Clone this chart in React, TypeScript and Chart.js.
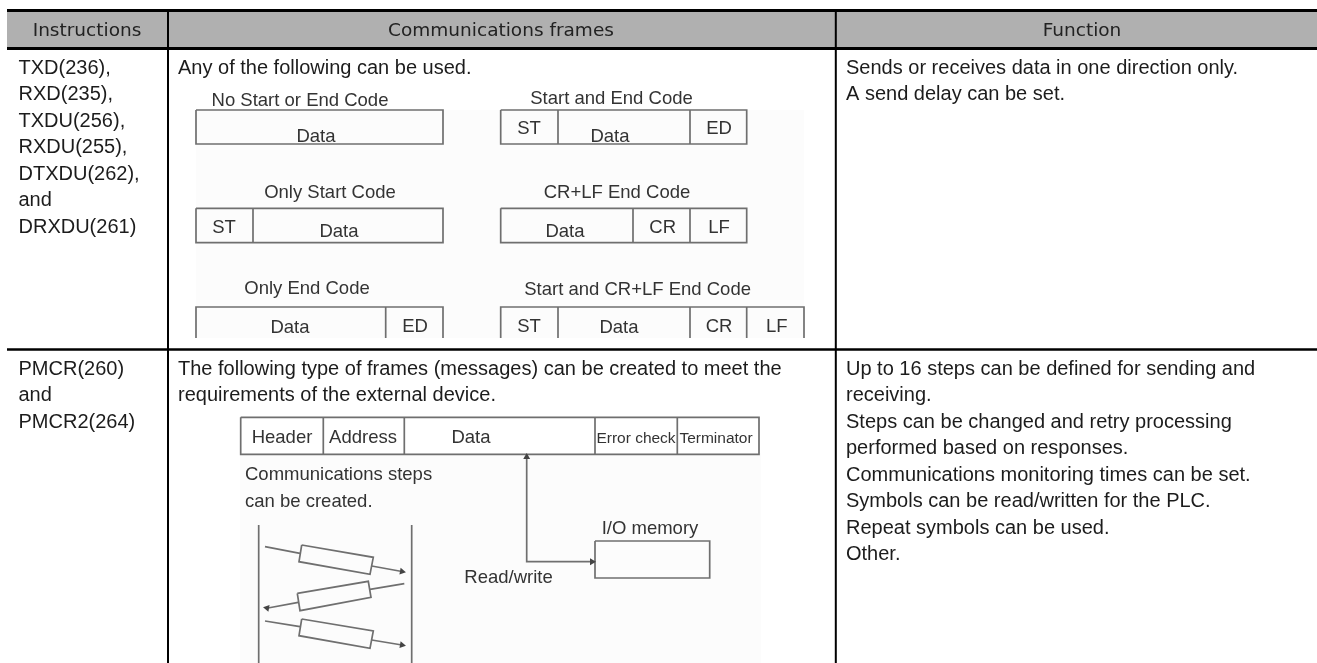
import { useEffect, useRef } from "react";
import { Chart, registerables } from "chart.js";

Chart.register(...registerables);

type P = [number, number];

// ---------- Text content ----------
const headers = ["Instructions", "Communications frames", "Function"];
const instructionsA = ["TXD(236),", "RXD(235),", "TXDU(256),", "RXDU(255),", "DTXDU(262),", "and", "DRXDU(261)"];
const instructionsB = ["PMCR(260)", "and", "PMCR2(264)"];
const framesIntroA = ["Any of the following can be used."];
const framesIntroB = [
  "The following type of frames (messages) can be created to meet the",
  "requirements of the external device.",
];
const functionA = ["Sends or receives data in one direction only.", "A send delay can be set."];
const functionB = [
  "Up to 16 steps can be defined for sending and",
  "receiving.",
  "Steps can be changed and retry processing",
  "performed based on responses.",
  "Communications monitoring times can be set.",
  "Symbols can be read/written for the PLC.",
  "Repeat symbols can be used.",
  "Other.",
];
const frameTitles = [
  "No Start or End Code",
  "Start and End Code",
  "Only Start Code",
  "CR+LF End Code",
  "Only End Code",
  "Start and CR+LF End Code",
];
const frameCells = ["Data", "ST", "Data", "ED", "ST", "Data", "Data", "CR", "LF", "Data", "ED", "ST", "Data", "CR", "LF"];
const messageCells = ["Header", "Address", "Data"];
const messageSmallCells = ["Error check", "Terminator"];
const stepNotes = ["Communications steps", "can be created."];
const ioLabel = "I/O memory";
const rwLabel = "Read/write";

// ---------- Layout (axis units equal the page's pixels) ----------
const headerX = [87, 501, 1082];
const headerY = 36;
const framesTitleX = [300, 611.5, 330, 617, 307, 637.6];
const framesTitleY = [105.5, 103.5, 198, 198, 294, 295];
const cellX = [316, 529, 610, 719, 224, 339, 565, 662.7, 719, 290, 415, 529, 619, 719, 776.7];
const cellY = [142, 134, 142, 134, 233, 236.7, 236.7, 233, 233, 333, 331.7, 331.7, 333, 331.7, 331.7];
const msgX = [282, 363, 471];
const msgSmallX = [636, 716];
const lineStep = 26.45;
const baseA = 74;
const baseB = 375;

const tableLines: { pts: P[]; w: number; c: string }[] = [
  { pts: [[7, 10.5], [1317, 10.5]], w: 3, c: "#000" },
  { pts: [[7, 48.5], [1317, 48.5]], w: 3, c: "#000" },
  { pts: [[7, 349.5], [1317, 349.5]], w: 2.5, c: "#000" },
  { pts: [[168, 9], [168, 663]], w: 2, c: "#000" },
  { pts: [[835.8, 9], [835.8, 663]], w: 2, c: "#000" },
];
const headerBand: P[] = [[7, 29.5], [1317, 29.5]];

const paperBands: { pts: P[]; w: number }[] = [
  { pts: [[196, 224], [804, 224]], w: 228 },
  { pts: [[240, 558], [761, 558]], w: 210 },
];

const rect = (x0: number, x1: number, y0: number, y1: number): P[] => [[x0, y0], [x1, y0], [x1, y1], [x0, y1], [x0, y0]];
const openRect = (x0: number, x1: number, y0: number, y1: number): P[] => [[x0, y1], [x0, y0], [x1, y0], [x1, y1]];
const vbar = (x: number, y0: number, y1: number): P[] => [[x, y0], [x, y1]];

const diagramLines: P[][] = [
  rect(196, 443, 110, 144),
  rect(500.7, 746.7, 110, 144), vbar(558, 110, 144), vbar(690, 110, 144),
  rect(196, 443, 208.3, 242.7), vbar(253, 208.3, 242.7),
  rect(500.7, 746.7, 208.3, 242.7), vbar(633, 208.3, 242.7), vbar(690, 208.3, 242.7),
  openRect(196, 443, 307, 338), vbar(385.7, 307, 338),
  openRect(500.7, 804, 307, 338), vbar(558, 307, 338), vbar(690, 307, 338), vbar(746.7, 307, 338),
  rect(240.7, 759, 417.3, 454.3), vbar(323.3, 417.3, 454.3), vbar(404.3, 417.3, 454.3), vbar(595, 417.3, 454.3), vbar(677.3, 417.3, 454.3),
  rect(595, 709.7, 541, 578),
  [[526.7, 456], [526.7, 561.7], [593, 561.7]],
  vbar(258.7, 525, 663),
  vbar(411.7, 525, 663),
  [[301.7, 545], [373.3, 557.3], [370, 574.3], [299, 561.7], [301.7, 545]],
  [[265, 546.7], [300, 553.3]],
  [[371.7, 566], [402, 571.5]],
  [[297.3, 593.3], [368.3, 581.3], [371, 597.3], [300, 610.7], [297.3, 593.3]],
  [[404.3, 583.7], [370, 589.3]],
  [[298.3, 602.3], [268, 608]],
  [[301.7, 619], [373.3, 631], [370, 648.3], [299, 635.7], [301.7, 619]],
  [[265, 621], [300, 626.7]],
  [[371.7, 640], [402, 645]],
];

const arrowHeads: { at: P; rot: number }[] = [
  { at: [526.7, 457], rot: 0 },
  { at: [592, 561.7], rot: 90 },
  { at: [402, 571.5], rot: 100 },
  { at: [267, 608], rot: 280 },
  { at: [402, 645], rot: 100 },
];

const BODY = "20px 'Liberation Sans'";
const DIAGRAM = "18.5px 'Liberation Sans'";
const SMALL = "15.5px 'Liberation Sans'";
const HEAD = "18.5px 'DejaVu Sans'";

type T = { s: string; x: number; y: number; font: string; color: string; align: CanvasTextAlign };

function buildTexts(): T[] {
  const out: T[] = [];
  const block = (lines: string[], x: number, y: number) =>
    lines.forEach((s, i) => out.push({ s, x, y: y + i * lineStep, font: BODY, color: "#1c1c1c", align: "left" }));
  headers.forEach((s, i) => out.push({ s, x: headerX[i], y: headerY, font: HEAD, color: "#222", align: "center" }));
  block(instructionsA, 18.5, baseA);
  block(instructionsB, 18.5, baseB);
  block(framesIntroA, 178, baseA);
  block(framesIntroB, 178, baseB);
  block(functionA, 846, baseA);
  block(functionB, 846, baseB);
  const dc = "#333";
  frameTitles.forEach((s, i) => out.push({ s, x: framesTitleX[i], y: framesTitleY[i], font: DIAGRAM, color: dc, align: "center" }));
  frameCells.forEach((s, i) => out.push({ s, x: cellX[i], y: cellY[i], font: DIAGRAM, color: dc, align: "center" }));
  messageCells.forEach((s, i) => out.push({ s, x: msgX[i], y: 443, font: DIAGRAM, color: dc, align: "center" }));
  messageSmallCells.forEach((s, i) => out.push({ s, x: msgSmallX[i], y: 443, font: SMALL, color: dc, align: "center" }));
  stepNotes.forEach((s, i) => out.push({ s, x: 245, y: 480 + i * 26.7, font: DIAGRAM, color: dc, align: "left" }));
  out.push({ s: ioLabel, x: 601.7, y: 534.3, font: DIAGRAM, color: dc, align: "left" });
  out.push({ s: rwLabel, x: 464.3, y: 583.3, font: DIAGRAM, color: dc, align: "left" });
  return out;
}

const textPlugin = {
  id: "tableText",
  afterDatasetsDraw(chart: any) {
    const { ctx, scales } = chart;
    ctx.save();
    ctx.textBaseline = "alphabetic";
    for (const t of buildTexts()) {
      ctx.font = t.font;
      ctx.fillStyle = t.color;
      ctx.textAlign = t.align;
      ctx.fillText(t.s, scales.x.getPixelForValue(t.x), scales.y.getPixelForValue(t.y));
    }
    ctx.restore();
  },
};

const lineDs = (pts: P[], color: string, width: number) => ({
  data: pts.map(([x, y]) => ({ x, y })),
  showLine: true,
  borderColor: color,
  borderWidth: width,
  pointRadius: 0,
  tension: 0,
  fill: false,
  clip: false,
  borderCapStyle: "butt",
  borderJoinStyle: "miter",
});

export default function App() {
  const ref = useRef<HTMLCanvasElement>(null);
  useEffect(() => {
    if (!ref.current) return;
    const chart = new Chart(ref.current, {
      type: "scatter",
      data: {
        // Chart.js paints the first dataset last, so the top layer comes first.
        datasets: [
          {
            data: arrowHeads.map((a) => ({ x: a.at[0], y: a.at[1] })),
            showLine: false,
            pointStyle: "triangle",
            pointRadius: 4,
            pointRotation: arrowHeads.map((a) => a.rot),
            backgroundColor: "#444",
            borderColor: "#444",
            borderWidth: 0,
            clip: false,
          },
          ...diagramLines.map((p) => lineDs(p, "#6f6f6f", 1.7)),
          ...tableLines.map((l) => lineDs(l.pts, l.c, l.w)),
          lineDs(headerBand, "#b0b0b0", 35),
          ...paperBands.map((b) => lineDs(b.pts, "#fcfcfc", b.w)),
        ] as any,
      },
      options: {
        animation: false,
        responsive: false,
        layout: { padding: 0, autoPadding: false },
        plugins: { legend: { display: false }, tooltip: { enabled: false }, title: { display: false } },
        scales: {
          x: { type: "linear", min: 0, max: 1317, display: false },
          y: { type: "linear", min: 0, max: 663, reverse: true, display: false },
        },
      },
      plugins: [textPlugin],
    } as any);
    return () => chart.destroy();
  }, []);
  return (
    <canvas
      ref={ref}
      width={1317}
      height={663}
      style={{ position: "absolute", left: 0, top: 0, display: "block", background: "#fff" }}
    />
  );
}
